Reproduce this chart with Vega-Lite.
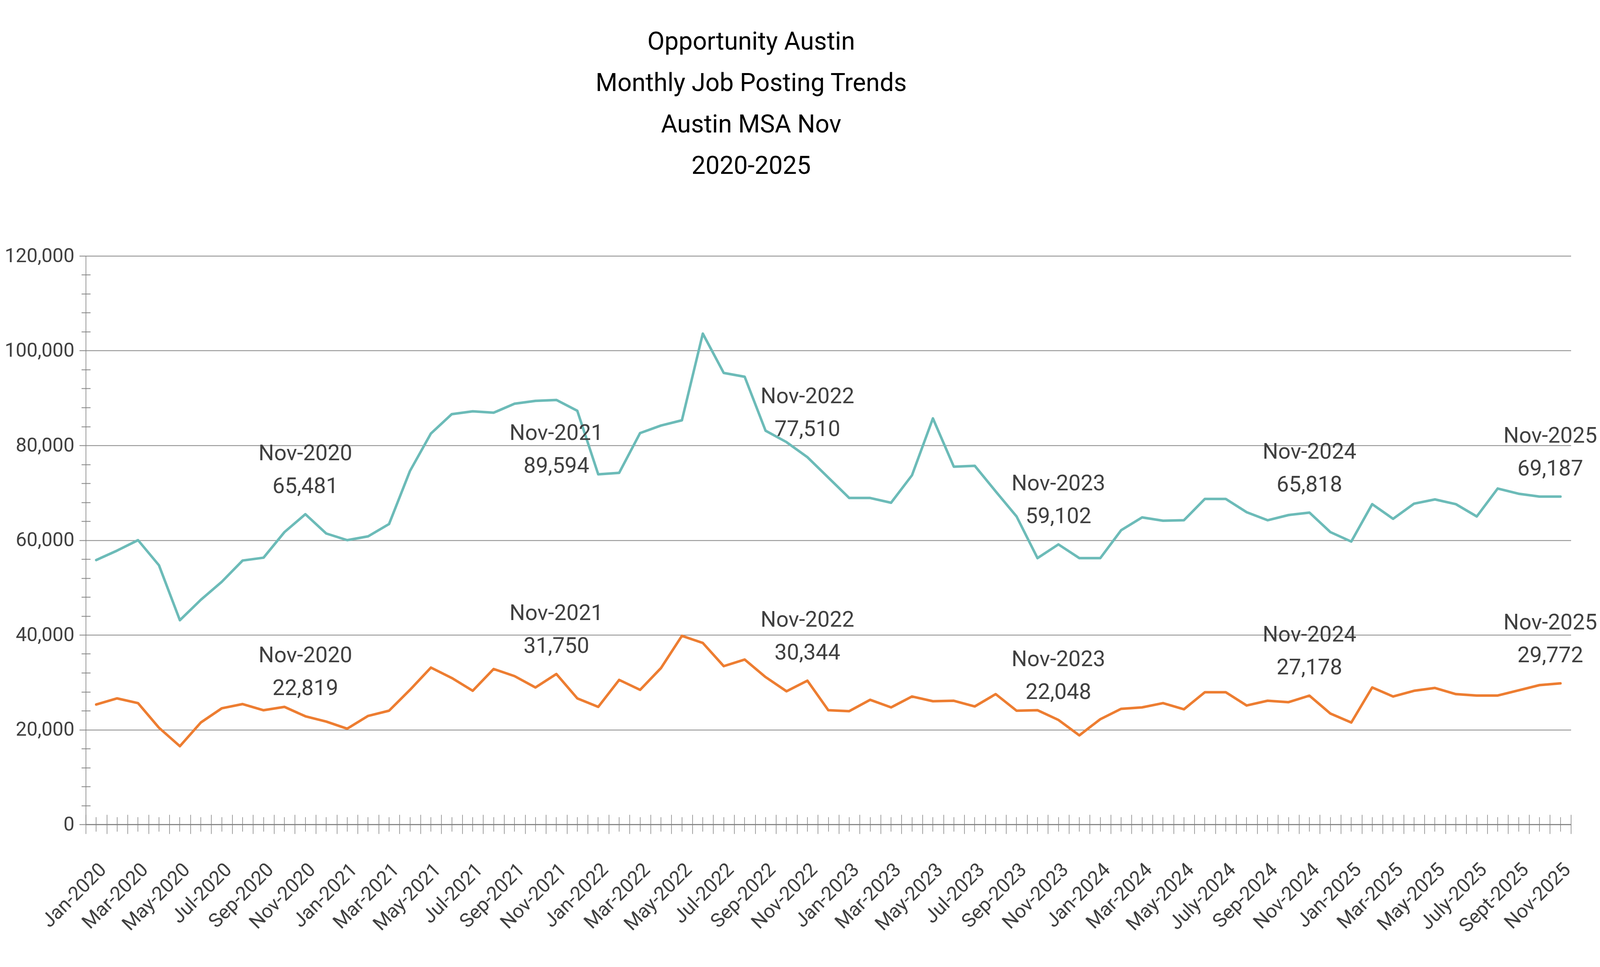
{
  "$schema": "https://vega.github.io/schema/vega-lite/v6.json",
  "width": 3802,
  "height": 1455,
  "autosize": {"type": "none"},
  "padding": {"left": 219.5, "top": 655, "right": 74.5, "bottom": 365},
  "background": "white",
  "title": {
    "text": ["Opportunity Austin", "Monthly Job Posting Trends", "Austin MSA Nov", "2020-2025"],
    "font": "Roboto",
    "fontSize": 64,
    "lineHeight": 106,
    "fontWeight": "normal",
    "color": "#000000",
    "anchor": "middle",
    "frame": "group",
    "dx": -197.5,
    "offset": 172
  },
  "data": {
    "values": [
      {"month": "Jan-2020", "series": "Series 1", "value": 55800}, {"month": "Jan-2020", "series": "Series 2", "value": 25300},
      {"month": "Feb-2020", "series": "Series 1", "value": 57800}, {"month": "Feb-2020", "series": "Series 2", "value": 26600},
      {"month": "Mar-2020", "series": "Series 1", "value": 60000}, {"month": "Mar-2020", "series": "Series 2", "value": 25600},
      {"month": "Apr-2020", "series": "Series 1", "value": 54700}, {"month": "Apr-2020", "series": "Series 2", "value": 20400},
      {"month": "May-2020", "series": "Series 1", "value": 43100}, {"month": "May-2020", "series": "Series 2", "value": 16500},
      {"month": "Jun-2020", "series": "Series 1", "value": 47400}, {"month": "Jun-2020", "series": "Series 2", "value": 21500},
      {"month": "Jul-2020", "series": "Series 1", "value": 51200}, {"month": "Jul-2020", "series": "Series 2", "value": 24500},
      {"month": "Aug-2020", "series": "Series 1", "value": 55700}, {"month": "Aug-2020", "series": "Series 2", "value": 25400},
      {"month": "Sep-2020", "series": "Series 1", "value": 56300}, {"month": "Sep-2020", "series": "Series 2", "value": 24100},
      {"month": "Oct-2020", "series": "Series 1", "value": 61700}, {"month": "Oct-2020", "series": "Series 2", "value": 24800},
      {"month": "Nov-2020", "series": "Series 1", "value": 65481}, {"month": "Nov-2020", "series": "Series 2", "value": 22819},
      {"month": "Dec-2020", "series": "Series 1", "value": 61400}, {"month": "Dec-2020", "series": "Series 2", "value": 21700},
      {"month": "Jan-2021", "series": "Series 1", "value": 60000}, {"month": "Jan-2021", "series": "Series 2", "value": 20200},
      {"month": "Feb-2021", "series": "Series 1", "value": 60800}, {"month": "Feb-2021", "series": "Series 2", "value": 22900},
      {"month": "Mar-2021", "series": "Series 1", "value": 63400}, {"month": "Mar-2021", "series": "Series 2", "value": 24000},
      {"month": "Apr-2021", "series": "Series 1", "value": 74600}, {"month": "Apr-2021", "series": "Series 2", "value": 28400},
      {"month": "May-2021", "series": "Series 1", "value": 82500}, {"month": "May-2021", "series": "Series 2", "value": 33100},
      {"month": "Jun-2021", "series": "Series 1", "value": 86600}, {"month": "Jun-2021", "series": "Series 2", "value": 30900},
      {"month": "Jul-2021", "series": "Series 1", "value": 87200}, {"month": "Jul-2021", "series": "Series 2", "value": 28200},
      {"month": "Aug-2021", "series": "Series 1", "value": 86900}, {"month": "Aug-2021", "series": "Series 2", "value": 32800},
      {"month": "Sep-2021", "series": "Series 1", "value": 88800}, {"month": "Sep-2021", "series": "Series 2", "value": 31300},
      {"month": "Oct-2021", "series": "Series 1", "value": 89400}, {"month": "Oct-2021", "series": "Series 2", "value": 28900},
      {"month": "Nov-2021", "series": "Series 1", "value": 89594}, {"month": "Nov-2021", "series": "Series 2", "value": 31750},
      {"month": "Dec-2021", "series": "Series 1", "value": 87300}, {"month": "Dec-2021", "series": "Series 2", "value": 26600},
      {"month": "Jan-2022", "series": "Series 1", "value": 73900}, {"month": "Jan-2022", "series": "Series 2", "value": 24800},
      {"month": "Feb-2022", "series": "Series 1", "value": 74200}, {"month": "Feb-2022", "series": "Series 2", "value": 30500},
      {"month": "Mar-2022", "series": "Series 1", "value": 82600}, {"month": "Mar-2022", "series": "Series 2", "value": 28400},
      {"month": "Apr-2022", "series": "Series 1", "value": 84200}, {"month": "Apr-2022", "series": "Series 2", "value": 33000},
      {"month": "May-2022", "series": "Series 1", "value": 85300}, {"month": "May-2022", "series": "Series 2", "value": 39800},
      {"month": "Jun-2022", "series": "Series 1", "value": 103600}, {"month": "Jun-2022", "series": "Series 2", "value": 38300},
      {"month": "Jul-2022", "series": "Series 1", "value": 95300}, {"month": "Jul-2022", "series": "Series 2", "value": 33400},
      {"month": "Aug-2022", "series": "Series 1", "value": 94500}, {"month": "Aug-2022", "series": "Series 2", "value": 34800},
      {"month": "Sep-2022", "series": "Series 1", "value": 83100}, {"month": "Sep-2022", "series": "Series 2", "value": 31100},
      {"month": "Oct-2022", "series": "Series 1", "value": 80700}, {"month": "Oct-2022", "series": "Series 2", "value": 28100},
      {"month": "Nov-2022", "series": "Series 1", "value": 77510}, {"month": "Nov-2022", "series": "Series 2", "value": 30344},
      {"month": "Dec-2022", "series": "Series 1", "value": 73200}, {"month": "Dec-2022", "series": "Series 2", "value": 24100},
      {"month": "Jan-2023", "series": "Series 1", "value": 68900}, {"month": "Jan-2023", "series": "Series 2", "value": 23900},
      {"month": "Feb-2023", "series": "Series 1", "value": 68900}, {"month": "Feb-2023", "series": "Series 2", "value": 26300},
      {"month": "Mar-2023", "series": "Series 1", "value": 67900}, {"month": "Mar-2023", "series": "Series 2", "value": 24700},
      {"month": "Apr-2023", "series": "Series 1", "value": 73700}, {"month": "Apr-2023", "series": "Series 2", "value": 27000},
      {"month": "May-2023", "series": "Series 1", "value": 85700}, {"month": "May-2023", "series": "Series 2", "value": 26000},
      {"month": "Jun-2023", "series": "Series 1", "value": 75500}, {"month": "Jun-2023", "series": "Series 2", "value": 26100},
      {"month": "Jul-2023", "series": "Series 1", "value": 75700}, {"month": "Jul-2023", "series": "Series 2", "value": 24900},
      {"month": "Aug-2023", "series": "Series 1", "value": 70300}, {"month": "Aug-2023", "series": "Series 2", "value": 27500},
      {"month": "Sep-2023", "series": "Series 1", "value": 65000}, {"month": "Sep-2023", "series": "Series 2", "value": 24000},
      {"month": "Oct-2023", "series": "Series 1", "value": 56200}, {"month": "Oct-2023", "series": "Series 2", "value": 24100},
      {"month": "Nov-2023", "series": "Series 1", "value": 59102}, {"month": "Nov-2023", "series": "Series 2", "value": 22048},
      {"month": "Dec-2023", "series": "Series 1", "value": 56200}, {"month": "Dec-2023", "series": "Series 2", "value": 18800},
      {"month": "Jan-2024", "series": "Series 1", "value": 56200}, {"month": "Jan-2024", "series": "Series 2", "value": 22200},
      {"month": "Feb-2024", "series": "Series 1", "value": 62100}, {"month": "Feb-2024", "series": "Series 2", "value": 24400},
      {"month": "Mar-2024", "series": "Series 1", "value": 64800}, {"month": "Mar-2024", "series": "Series 2", "value": 24700},
      {"month": "Apr-2024", "series": "Series 1", "value": 64100}, {"month": "Apr-2024", "series": "Series 2", "value": 25600},
      {"month": "May-2024", "series": "Series 1", "value": 64200}, {"month": "May-2024", "series": "Series 2", "value": 24300},
      {"month": "Jun-2024", "series": "Series 1", "value": 68700}, {"month": "Jun-2024", "series": "Series 2", "value": 27900},
      {"month": "July-2024", "series": "Series 1", "value": 68700}, {"month": "July-2024", "series": "Series 2", "value": 27900},
      {"month": "Aug-2024", "series": "Series 1", "value": 65900}, {"month": "Aug-2024", "series": "Series 2", "value": 25100},
      {"month": "Sep-2024", "series": "Series 1", "value": 64200}, {"month": "Sep-2024", "series": "Series 2", "value": 26100},
      {"month": "Oct-2024", "series": "Series 1", "value": 65300}, {"month": "Oct-2024", "series": "Series 2", "value": 25800},
      {"month": "Nov-2024", "series": "Series 1", "value": 65818}, {"month": "Nov-2024", "series": "Series 2", "value": 27178},
      {"month": "Dec-2024", "series": "Series 1", "value": 61700}, {"month": "Dec-2024", "series": "Series 2", "value": 23400},
      {"month": "Jan-2025", "series": "Series 1", "value": 59700}, {"month": "Jan-2025", "series": "Series 2", "value": 21500},
      {"month": "Feb-2025", "series": "Series 1", "value": 67600}, {"month": "Feb-2025", "series": "Series 2", "value": 28900},
      {"month": "Mar-2025", "series": "Series 1", "value": 64500}, {"month": "Mar-2025", "series": "Series 2", "value": 27000},
      {"month": "Apr-2025", "series": "Series 1", "value": 67700}, {"month": "Apr-2025", "series": "Series 2", "value": 28200},
      {"month": "May-2025", "series": "Series 1", "value": 68600}, {"month": "May-2025", "series": "Series 2", "value": 28800},
      {"month": "Jun-2025", "series": "Series 1", "value": 67600}, {"month": "Jun-2025", "series": "Series 2", "value": 27500},
      {"month": "July-2025", "series": "Series 1", "value": 65000}, {"month": "July-2025", "series": "Series 2", "value": 27200},
      {"month": "Aug-2025", "series": "Series 1", "value": 70900}, {"month": "Aug-2025", "series": "Series 2", "value": 27200},
      {"month": "Sept-2025", "series": "Series 1", "value": 69800}, {"month": "Sept-2025", "series": "Series 2", "value": 28300},
      {"month": "Oct-2025", "series": "Series 1", "value": 69200}, {"month": "Oct-2025", "series": "Series 2", "value": 29400},
      {"month": "Nov-2025", "series": "Series 1", "value": 69187}, {"month": "Nov-2025", "series": "Series 2", "value": 29772}
    ]
  },
  "transform": [
    {"calculate": "indexof(datum.month, 'Nov') === 0 ? datum.month + '\\n' + format(datum.value, ',') : ''", "as": "lbl"}
  ],
  "layer": [
    {
      "mark": {"type": "line", "strokeWidth": 6.5, "strokeJoin": "round", "strokeCap": "round"},
      "encoding": {
        "x": {
          "field": "month", "type": "ordinal", "sort": null,
          "scale": {"type": "band", "paddingInner": 0, "paddingOuter": 0},
          "axis": {
            "orient": "bottom", "title": null, "grid": false, "ticks": false, "tickSize": 0,
            "domain": true, "domainColor": "#808080", "domainWidth": 2.5,
            "labelAngle": -45, "labelFont": "Roboto", "labelFontSize": 50, "labelColor": "#404040",
            "labelPadding": 90, "labelOverlap": false, "labelBound": false, "labelFlush": false, "labelLimit": 2000,
            "labelExpr": "test(regexp('^(Jan|Mar|May|Jul|Sep|Nov)'), datum.label) ? datum.label : ''"
          }
        },
        "y": {
          "field": "value", "type": "quantitative",
          "scale": {"domain": [0, 120000], "nice": false, "zero": true},
          "axis": {
            "orient": "left", "title": null,
            "values": [0, 20000, 40000, 60000, 80000, 100000, 120000], "format": ",.0f",
            "grid": true, "gridColor": "#868686", "gridWidth": 2,
            "ticks": true, "tickSize": 16.5, "tickColor": "#808080", "tickWidth": 2,
            "domain": true, "domainColor": "#808080", "domainWidth": 1.6,
            "labelFont": "Roboto", "labelFontSize": 50, "labelColor": "#404040", "labelPadding": 13, "labelLimit": 2000
          }
        },
        "color": {
          "field": "series", "type": "nominal",
          "scale": {"domain": ["Series 1", "Series 2"], "range": ["#6CBBB8", "#ED7D31"]},
          "legend": null
        }
      }
    },
    {
      "mark": {"type": "text", "font": "Roboto", "fontSize": 56, "lineHeight": 84, "color": "#404040", "baseline": "alphabetic", "align": "center", "dy": -138, "lineBreak": "\n"},
      "encoding": {
        "x": {
          "field": "month", "type": "ordinal", "sort": null,
          "axis": {
            "orient": "bottom", "offset": -25, "tickBand": "extent", "tickSize": 49,
            "tickColor": "#808080", "tickWidth": 1.5, "labels": false, "domain": false, "grid": false, "title": null
          }
        },
        "y": {
          "field": "value", "type": "quantitative",
          "axis": {
            "orient": "left", "offset": -11.8, "tickSize": 23, "tickColor": "#808080", "tickWidth": 2,
            "values": [4000, 8000, 12000, 16000, 24000, 28000, 32000, 36000, 44000, 48000, 52000, 56000, 64000, 68000, 72000, 76000, 84000, 88000, 92000, 96000, 104000, 108000, 112000, 116000],
            "labels": false, "domain": false, "grid": false, "title": null
          }
        },
        "text": {
          "condition": {"test": "datum.month !== 'Nov-2025' && !(datum.series === 'Series 1' && datum.month === 'Nov-2021')", "field": "lbl", "type": "nominal"},
          "value": ""
        }
      }
    },
    {
      "mark": {"type": "text", "font": "Roboto", "fontSize": 56, "lineHeight": 84, "color": "#404040", "baseline": "alphabetic", "align": "center", "dy": 102, "lineBreak": "\n"},
      "encoding": {
        "x": {
          "field": "month", "type": "ordinal", "sort": null,
          "axis": {
            "orient": "bottom", "offset": -19, "tickSize": 37,
            "tickColor": "#808080", "tickWidth": 1.5, "labels": false, "domain": false, "grid": false, "title": null
          }
        },
        "y": {"field": "value", "type": "quantitative", "axis": null},
        "text": {
          "condition": {"test": "datum.series === 'Series 1' && datum.month === 'Nov-2021'", "field": "lbl", "type": "nominal"},
          "value": ""
        }
      }
    },
    {
      "mark": {"type": "text", "font": "Roboto", "fontSize": 56, "lineHeight": 84, "color": "#404040", "baseline": "alphabetic", "align": "center", "dy": -138, "dx": -26, "lineBreak": "\n"},
      "encoding": {
        "x": {"field": "month", "type": "ordinal", "sort": null, "axis": null},
        "y": {"field": "value", "type": "quantitative", "axis": null},
        "text": {
          "condition": {"test": "datum.month === 'Nov-2025'", "field": "lbl", "type": "nominal"},
          "value": ""
        }
      }
    }
  ],
  "resolve": {"axis": {"x": "independent", "y": "independent"}},
  "config": {
    "view": {"stroke": null},
    "font": "Roboto"
  }
}
